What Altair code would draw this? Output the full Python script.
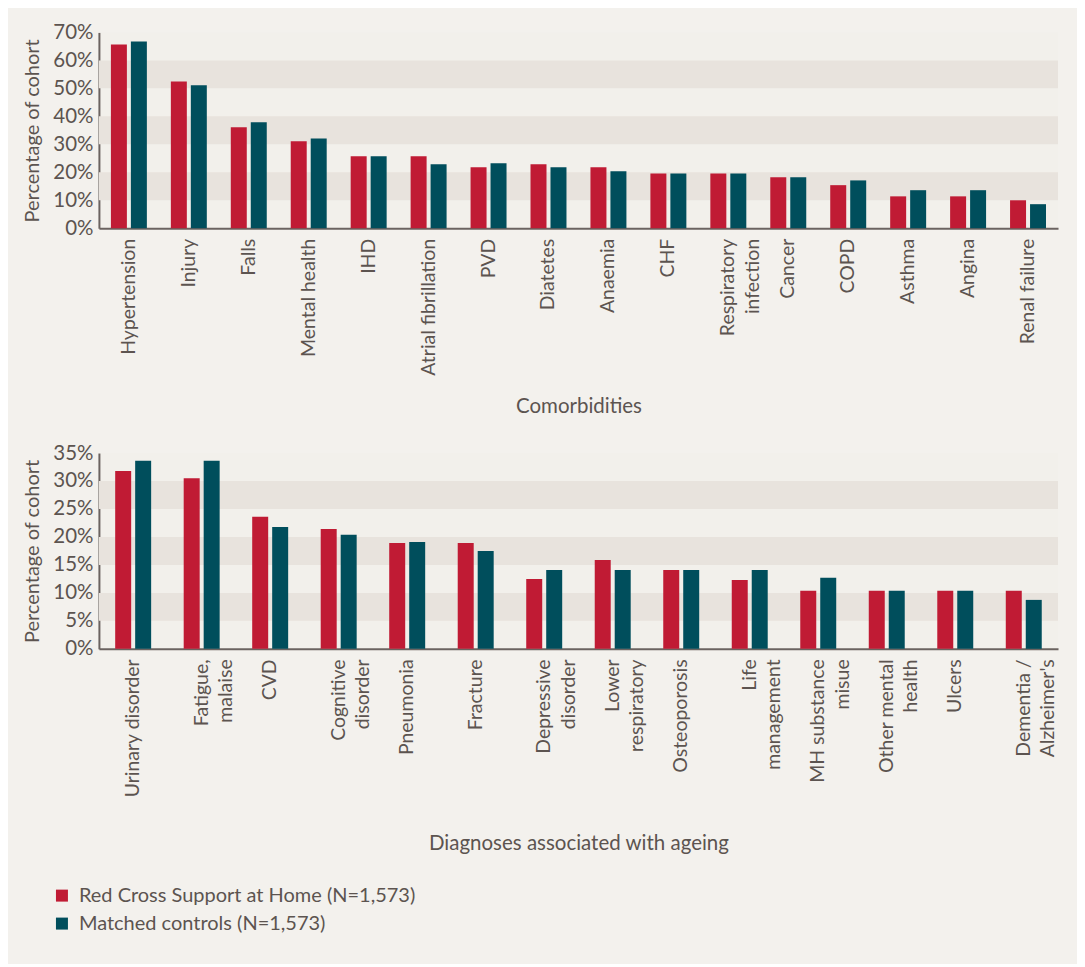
import altair as alt
import pandas as pd

# ---------------- data ----------------
series = ["Red Cross Support at Home (N=1,573)", "Matched controls (N=1,573)"]
series_colors = ["#c01b34", "#004e5c"]

comorb_cats = ["Hypertension", "Injury", "Falls", "Mental health", "IHD",
               "Atrial fibrillation", "PVD", "Diatetes", "Anaemia", "CHF",
               "Respiratory|infection", "Cancer", "COPD", "Asthma", "Angina",
               "Renal failure"]
comorb_red = [65.7, 52.5, 36.1, 31.1, 25.7, 25.7, 21.8, 22.9, 21.8, 19.6,
              19.6, 18.2, 15.4, 11.4, 11.4, 10.0]
comorb_teal = [66.8, 51.1, 37.9, 32.1, 25.7, 22.9, 23.2, 21.8, 20.4, 19.6,
               19.6, 18.2, 17.1, 13.6, 13.6, 8.6]
comorb_ticks = [0, 10, 20, 30, 40, 50, 60, 70]

diag_cats = ["Urinary disorder", "Fatigue,|malaise", "CVD", "Cognitive|disorder",
             "Pneumonia", "Fracture", "Depressive|disorder", "Lower|respiratory",
             "Osteoporosis", "Life|management", "MH substance|misue",
             "Other mental|health", "Ulcers", "Dementia /|Alzheimer's"]
diag_red = [31.8, 30.5, 23.6, 21.4, 18.9, 18.9, 12.5, 15.9, 14.1, 12.3,
            10.4, 10.4, 10.4, 10.4]
diag_teal = [33.6, 33.6, 21.8, 20.4, 19.1, 17.5, 14.1, 14.1, 14.1, 14.1,
             12.7, 10.4, 10.4, 8.75]
diag_ticks = [0, 5, 10, 15, 20, 25, 30, 35]

TEXT = "#5c5450"
AXIS = "#6b6360"
FONT = "Lato"


def panel(cats, red, teal, ticks, xtitle, pad_inner, title_y):
    df = pd.DataFrame({
        "cat": cats * 2,
        "series": [series[0]] * len(cats) + [series[1]] * len(cats),
        "value": red + teal,
    })
    bands = pd.DataFrame({"lo": ticks[1:-1:2], "hi": ticks[2::2]})
    yscale = alt.Scale(domain=[ticks[0], ticks[-1]], nice=False)
    yaxis = alt.Axis(title="Percentage of cohort", values=ticks,
                     labelExpr="datum.value + '%'", grid=False,
                     ticks=False, domainColor=AXIS, domainWidth=2,
                     labelOverlap=False, labelFlush=False,
                     labelPadding=6, labelFontSize=20.5, labelColor=TEXT,
                     labelFont=FONT, titleFontSize=20, titleColor=TEXT,
                     titleFont=FONT, titleFontWeight="normal",
                     titlePadding=10)

    band_layer = alt.Chart(bands).mark_rect(color="#e8e3dd").encode(
        y=alt.Y("lo:Q", scale=yscale, axis=yaxis),
        y2="hi:Q",
    )

    legend = alt.Legend(
        title=None, orient="none", legendX=-47, legendY=854,
        symbolType="square", symbolSize=144, symbolStrokeWidth=0,
        labelFontSize=20, labelColor=TEXT, labelFont=FONT, labelLimit=0,
        rowPadding=8, labelOffset=7, padding=0,
    )

    bars = alt.Chart(df).mark_bar().encode(
        x=alt.X("cat:N", sort=cats,
                scale=alt.Scale(paddingInner=pad_inner, paddingOuter=pad_inner / 2),
                axis=alt.Axis(title=xtitle, labelAngle=270,
                              labelExpr="split(datum.value, '|')",
                              ticks=False, domainColor=AXIS, domainWidth=2,
                              labelPadding=10, labelFontSize=19.5, labelColor=TEXT,
                              labelFont=FONT, labelLineHeight=24.5,
                              labelOverlap=False, labelLimit=0,
                              titleFontSize=20.5, titleColor=TEXT, titleFont=FONT,
                              titleFontWeight="normal", titleY=title_y,
                              titleBaseline="middle")),
        xOffset=alt.XOffset("series:N", sort=series,
                            scale=alt.Scale(paddingInner=0.2, paddingOuter=0)),
        y=alt.Y("value:Q", scale=yscale, axis=yaxis),
        color=alt.Color("series:N", sort=series,
                        scale=alt.Scale(domain=series, range=series_colors),
                        legend=legend),
    )
    return alt.layer(band_layer, bars).properties(width=960, height=196)


top = panel(comorb_cats, comorb_red, comorb_teal, comorb_ticks,
            "Comorbidities", 0.4, 178)
bottom = panel(diag_cats, diag_red, diag_teal, diag_ticks,
               "Diagnoses associated with ageing", 0.475, 195)

chart = alt.vconcat(top, bottom, spacing=26).configure(
    background="#f3f1ed",
    padding={"left": 14, "top": 14, "right": 19, "bottom": 30},
).configure_view(stroke=None, fill="#f2f0eb")

chart.save("out.html", embed_options={"renderer": "svg", "actions": False})
